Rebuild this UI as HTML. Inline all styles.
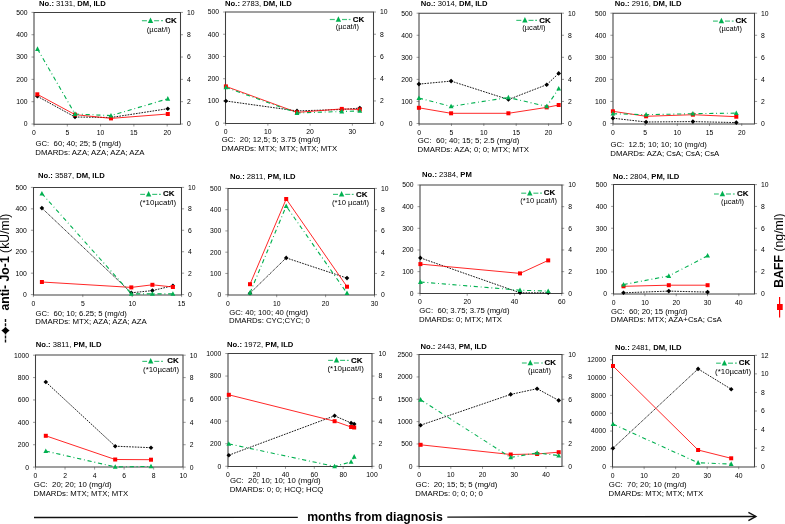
<!DOCTYPE html>
<html><head><meta charset="utf-8"><style>
html,body{margin:0;padding:0;background:#fff;}
body{width:785px;height:524px;overflow:hidden;}
svg{display:block;font-family:"Liberation Sans", sans-serif;will-change:transform;}
text{white-space:pre;}
</style></head><body>
<svg width="785" height="524" viewBox="0 0 785 524">
<g><text x="39.1" y="5.9" font-size="7.65"><tspan font-weight="bold">No.:</tspan> 3131, <tspan font-weight="bold">DM, ILD</tspan></text>
<line x1="31.5" y1="124" x2="34" y2="124" stroke="#808080" stroke-width="0.8"/>
<text x="27.5" y="126.4" font-size="6.8" text-anchor="end" fill="#000">0</text>
<line x1="31.5" y1="101.68" x2="34" y2="101.68" stroke="#808080" stroke-width="0.8"/>
<text x="27.5" y="104.08" font-size="6.8" text-anchor="end" fill="#000">100</text>
<line x1="31.5" y1="79.36" x2="34" y2="79.36" stroke="#808080" stroke-width="0.8"/>
<text x="27.5" y="81.76" font-size="6.8" text-anchor="end" fill="#000">200</text>
<line x1="31.5" y1="57.04" x2="34" y2="57.04" stroke="#808080" stroke-width="0.8"/>
<text x="27.5" y="59.44" font-size="6.8" text-anchor="end" fill="#000">300</text>
<line x1="31.5" y1="34.72" x2="34" y2="34.72" stroke="#808080" stroke-width="0.8"/>
<text x="27.5" y="37.12" font-size="6.8" text-anchor="end" fill="#000">400</text>
<line x1="31.5" y1="12.4" x2="34" y2="12.4" stroke="#808080" stroke-width="0.8"/>
<text x="27.5" y="14.8" font-size="6.8" text-anchor="end" fill="#000">500</text>
<line x1="180.5" y1="124" x2="183" y2="124" stroke="#808080" stroke-width="0.8"/>
<text x="187" y="126.4" font-size="6.8" fill="#000">0</text>
<line x1="180.5" y1="101.68" x2="183" y2="101.68" stroke="#808080" stroke-width="0.8"/>
<text x="187" y="104.08" font-size="6.8" fill="#000">2</text>
<line x1="180.5" y1="79.36" x2="183" y2="79.36" stroke="#808080" stroke-width="0.8"/>
<text x="187" y="81.76" font-size="6.8" fill="#000">4</text>
<line x1="180.5" y1="57.04" x2="183" y2="57.04" stroke="#808080" stroke-width="0.8"/>
<text x="187" y="59.44" font-size="6.8" fill="#000">6</text>
<line x1="180.5" y1="34.72" x2="183" y2="34.72" stroke="#808080" stroke-width="0.8"/>
<text x="187" y="37.12" font-size="6.8" fill="#000">8</text>
<line x1="180.5" y1="12.4" x2="183" y2="12.4" stroke="#808080" stroke-width="0.8"/>
<text x="187" y="14.8" font-size="6.8" fill="#000">10</text>
<line x1="34" y1="124" x2="34" y2="126.5" stroke="#808080" stroke-width="0.8"/>
<text x="34" y="135" font-size="6.8" text-anchor="middle" fill="#000">0</text>
<line x1="67.3" y1="124" x2="67.3" y2="126.5" stroke="#808080" stroke-width="0.8"/>
<text x="67.3" y="135" font-size="6.8" text-anchor="middle" fill="#000">5</text>
<line x1="100.59" y1="124" x2="100.59" y2="126.5" stroke="#808080" stroke-width="0.8"/>
<text x="100.59" y="135" font-size="6.8" text-anchor="middle" fill="#000">10</text>
<line x1="133.89" y1="124" x2="133.89" y2="126.5" stroke="#808080" stroke-width="0.8"/>
<text x="133.89" y="135" font-size="6.8" text-anchor="middle" fill="#000">15</text>
<line x1="167.18" y1="124" x2="167.18" y2="126.5" stroke="#808080" stroke-width="0.8"/>
<text x="167.18" y="135" font-size="6.8" text-anchor="middle" fill="#000">20</text>
<path d="M34,12.5H180.5M180.5,12.5V124.3M180.5,124.3H34M34,124.3V12.5" fill="none" stroke="#404040" stroke-width="1.05" stroke-linecap="square"/>
<text x="35.5" y="146.2" font-size="7.7" fill="#000" textLength="85.7" lengthAdjust="spacingAndGlyphs">GC:  60; 40; 25; 5 (mg/d)</text>
<text x="35.3" y="154.9" font-size="7.7" fill="#000" textLength="109.3" lengthAdjust="spacingAndGlyphs">DMARDs: AZA; AZA; AZA; AZA</text>
<line x1="37.3" y1="96.3" x2="75" y2="117" stroke="#000" stroke-width="0.9" stroke-dasharray="1.7 1.1"/>
<line x1="75" y1="117" x2="111" y2="117.5" stroke="#000" stroke-width="0.9" stroke-dasharray="1.7 1.1"/>
<line x1="111" y1="117.5" x2="167.8" y2="108.7" stroke="#000" stroke-width="0.9" stroke-dasharray="1.7 1.1"/>
<polygon points="37.3,94 39.6,96.3 37.3,98.6 35,96.3" fill="#000"/>
<polygon points="75,114.7 77.3,117 75,119.3 72.7,117" fill="#000"/>
<polygon points="111,115.2 113.3,117.5 111,119.8 108.7,117.5" fill="#000"/>
<polygon points="167.8,106.4 170.1,108.7 167.8,111 165.5,108.7" fill="#000"/>
<polyline points="37.3,94.3 75,114.6 111,118.4 167.8,114" fill="none" stroke="#ff0000" stroke-width="0.85"/>
<rect x="35.3" y="92.3" width="4" height="4" fill="#ff0000"/>
<rect x="73" y="112.6" width="4" height="4" fill="#ff0000"/>
<rect x="109" y="116.4" width="4" height="4" fill="#ff0000"/>
<rect x="165.8" y="112" width="4" height="4" fill="#ff0000"/>
<polyline points="37.5,49 75,114 111,115.6 167.8,98.8" fill="none" stroke="#00b050" stroke-width="1.1" stroke-dasharray="4.2 2.8 0.9 2.8"/>
<polygon points="37.5,46.3 39.9,50.9 35.1,50.9" fill="#00b050"/>
<polygon points="75,111.3 77.4,115.9 72.6,115.9" fill="#00b050"/>
<polygon points="111,112.9 113.4,117.5 108.6,117.5" fill="#00b050"/>
<polygon points="167.8,96.1 170.2,100.7 165.4,100.7" fill="#00b050"/>
<line x1="141.9" y1="20.7" x2="146.9" y2="20.7" stroke="#00b050" stroke-width="1.2" stroke-opacity="0.75"/>
<line x1="154.1" y1="20.7" x2="159.1" y2="20.7" stroke="#00b050" stroke-width="1.2" stroke-opacity="0.75"/>
<line x1="161.1" y1="20.7" x2="162.9" y2="20.7" stroke="#00b050" stroke-width="1.2" stroke-opacity="0.75"/>
<polygon points="150.5,17.4 153.2,22.9 147.8,22.9" fill="#00b050"/>
<text x="176.6" y="23" font-size="7.9" font-weight="bold" text-anchor="end" fill="#000" stroke="#000" stroke-width="0.15">CK</text>
<text x="170.3" y="31.6" font-size="7.7" text-anchor="end" fill="#000" textLength="23.5" lengthAdjust="spacingAndGlyphs">(µcat/l)</text></g>
<g><text x="225.1" y="5.5" font-size="7.65"><tspan font-weight="bold">No.:</tspan> 2783, <tspan font-weight="bold">DM, ILD</tspan></text>
<line x1="223.1" y1="123.2" x2="225.6" y2="123.2" stroke="#808080" stroke-width="0.8"/>
<text x="219.1" y="125.6" font-size="6.8" text-anchor="end" fill="#000">0</text>
<line x1="223.1" y1="100.96" x2="225.6" y2="100.96" stroke="#808080" stroke-width="0.8"/>
<text x="219.1" y="103.36" font-size="6.8" text-anchor="end" fill="#000">100</text>
<line x1="223.1" y1="78.72" x2="225.6" y2="78.72" stroke="#808080" stroke-width="0.8"/>
<text x="219.1" y="81.12" font-size="6.8" text-anchor="end" fill="#000">200</text>
<line x1="223.1" y1="56.48" x2="225.6" y2="56.48" stroke="#808080" stroke-width="0.8"/>
<text x="219.1" y="58.88" font-size="6.8" text-anchor="end" fill="#000">300</text>
<line x1="223.1" y1="34.24" x2="225.6" y2="34.24" stroke="#808080" stroke-width="0.8"/>
<text x="219.1" y="36.64" font-size="6.8" text-anchor="end" fill="#000">400</text>
<line x1="223.1" y1="12" x2="225.6" y2="12" stroke="#808080" stroke-width="0.8"/>
<text x="219.1" y="14.4" font-size="6.8" text-anchor="end" fill="#000">500</text>
<line x1="373.5" y1="123.2" x2="376" y2="123.2" stroke="#808080" stroke-width="0.8"/>
<text x="380" y="125.6" font-size="6.8" fill="#000">0</text>
<line x1="373.5" y1="100.96" x2="376" y2="100.96" stroke="#808080" stroke-width="0.8"/>
<text x="380" y="103.36" font-size="6.8" fill="#000">2</text>
<line x1="373.5" y1="78.72" x2="376" y2="78.72" stroke="#808080" stroke-width="0.8"/>
<text x="380" y="81.12" font-size="6.8" fill="#000">4</text>
<line x1="373.5" y1="56.48" x2="376" y2="56.48" stroke="#808080" stroke-width="0.8"/>
<text x="380" y="58.88" font-size="6.8" fill="#000">6</text>
<line x1="373.5" y1="34.24" x2="376" y2="34.24" stroke="#808080" stroke-width="0.8"/>
<text x="380" y="36.64" font-size="6.8" fill="#000">8</text>
<line x1="373.5" y1="12" x2="376" y2="12" stroke="#808080" stroke-width="0.8"/>
<text x="380" y="14.4" font-size="6.8" fill="#000">10</text>
<line x1="225.6" y1="123.2" x2="225.6" y2="125.7" stroke="#808080" stroke-width="0.8"/>
<text x="225.6" y="134.2" font-size="6.8" text-anchor="middle" fill="#000">0</text>
<line x1="267.86" y1="123.2" x2="267.86" y2="125.7" stroke="#808080" stroke-width="0.8"/>
<text x="267.86" y="134.2" font-size="6.8" text-anchor="middle" fill="#000">10</text>
<line x1="310.11" y1="123.2" x2="310.11" y2="125.7" stroke="#808080" stroke-width="0.8"/>
<text x="310.11" y="134.2" font-size="6.8" text-anchor="middle" fill="#000">20</text>
<line x1="352.37" y1="123.2" x2="352.37" y2="125.7" stroke="#808080" stroke-width="0.8"/>
<text x="352.37" y="134.2" font-size="6.8" text-anchor="middle" fill="#000">30</text>
<path d="M225.5,12H373.5M373.5,12V123.5M373.5,123.5H225.5M225.5,123.5V12" fill="none" stroke="#404040" stroke-width="1.05" stroke-linecap="square"/>
<text x="221.7" y="142.4" font-size="7.7" fill="#000" textLength="98.9" lengthAdjust="spacingAndGlyphs">GC:  20; 12,5; 5; 3.75 (mg/d)</text>
<text x="221.5" y="151.1" font-size="7.7" fill="#000" textLength="115.8" lengthAdjust="spacingAndGlyphs">DMARDs: MTX; MTX; MTX; MTX</text>
<line x1="225.9" y1="101" x2="297" y2="110.9" stroke="#000" stroke-width="0.9" stroke-dasharray="1.7 1.1"/>
<line x1="297" y1="110.9" x2="341.8" y2="109.5" stroke="#000" stroke-width="0.9" stroke-dasharray="1.7 1.1"/>
<line x1="341.8" y1="109.5" x2="359.8" y2="108.1" stroke="#000" stroke-width="0.9" stroke-dasharray="1.7 1.1"/>
<polygon points="225.9,98.7 228.2,101 225.9,103.3 223.6,101" fill="#000"/>
<polygon points="297,108.6 299.3,110.9 297,113.2 294.7,110.9" fill="#000"/>
<polygon points="341.8,107.2 344.1,109.5 341.8,111.8 339.5,109.5" fill="#000"/>
<polygon points="359.8,105.8 362.1,108.1 359.8,110.4 357.5,108.1" fill="#000"/>
<polyline points="225.9,86.4 297,112.4 341.8,108.9 359.8,109.5" fill="none" stroke="#ff0000" stroke-width="0.85"/>
<rect x="223.9" y="84.4" width="4" height="4" fill="#ff0000"/>
<rect x="295" y="110.4" width="4" height="4" fill="#ff0000"/>
<rect x="339.8" y="106.9" width="4" height="4" fill="#ff0000"/>
<rect x="357.8" y="107.5" width="4" height="4" fill="#ff0000"/>
<polyline points="225.9,87.4 297,113 341.8,111.5 359.8,110.9" fill="none" stroke="#00b050" stroke-width="1.1" stroke-dasharray="4.2 2.8 0.9 2.8"/>
<polygon points="225.9,84.7 228.3,89.3 223.5,89.3" fill="#00b050"/>
<polygon points="297,110.3 299.4,114.9 294.6,114.9" fill="#00b050"/>
<polygon points="341.8,108.8 344.2,113.4 339.4,113.4" fill="#00b050"/>
<polygon points="359.8,108.2 362.2,112.8 357.4,112.8" fill="#00b050"/>
<line x1="329.8" y1="19.5" x2="334.8" y2="19.5" stroke="#00b050" stroke-width="1.2" stroke-opacity="0.75"/>
<line x1="342" y1="19.5" x2="347" y2="19.5" stroke="#00b050" stroke-width="1.2" stroke-opacity="0.75"/>
<line x1="348.7" y1="19.5" x2="350.5" y2="19.5" stroke="#00b050" stroke-width="1.2" stroke-opacity="0.75"/>
<polygon points="338.4,16.2 341.1,21.7 335.7,21.7" fill="#00b050"/>
<text x="364.1" y="21.6" font-size="7.9" font-weight="bold" text-anchor="end" fill="#000" stroke="#000" stroke-width="0.15">CK</text>
<text x="358.9" y="29.3" font-size="7.7" text-anchor="end" fill="#000" textLength="23.1" lengthAdjust="spacingAndGlyphs">(µcat/l)</text></g>
<g><text x="420.8" y="6.15" font-size="7.65"><tspan font-weight="bold">No.:</tspan> 3014, <tspan font-weight="bold">DM, ILD</tspan></text>
<line x1="416.6" y1="123.5" x2="419.1" y2="123.5" stroke="#808080" stroke-width="0.8"/>
<text x="412.6" y="125.9" font-size="6.8" text-anchor="end" fill="#000">0</text>
<line x1="416.6" y1="101.44" x2="419.1" y2="101.44" stroke="#808080" stroke-width="0.8"/>
<text x="412.6" y="103.84" font-size="6.8" text-anchor="end" fill="#000">100</text>
<line x1="416.6" y1="79.38" x2="419.1" y2="79.38" stroke="#808080" stroke-width="0.8"/>
<text x="412.6" y="81.78" font-size="6.8" text-anchor="end" fill="#000">200</text>
<line x1="416.6" y1="57.32" x2="419.1" y2="57.32" stroke="#808080" stroke-width="0.8"/>
<text x="412.6" y="59.72" font-size="6.8" text-anchor="end" fill="#000">300</text>
<line x1="416.6" y1="35.26" x2="419.1" y2="35.26" stroke="#808080" stroke-width="0.8"/>
<text x="412.6" y="37.66" font-size="6.8" text-anchor="end" fill="#000">400</text>
<line x1="416.6" y1="13.2" x2="419.1" y2="13.2" stroke="#808080" stroke-width="0.8"/>
<text x="412.6" y="15.6" font-size="6.8" text-anchor="end" fill="#000">500</text>
<line x1="561.5" y1="123.5" x2="564" y2="123.5" stroke="#808080" stroke-width="0.8"/>
<text x="568" y="125.9" font-size="6.8" fill="#000">0</text>
<line x1="561.5" y1="101.44" x2="564" y2="101.44" stroke="#808080" stroke-width="0.8"/>
<text x="568" y="103.84" font-size="6.8" fill="#000">2</text>
<line x1="561.5" y1="79.38" x2="564" y2="79.38" stroke="#808080" stroke-width="0.8"/>
<text x="568" y="81.78" font-size="6.8" fill="#000">4</text>
<line x1="561.5" y1="57.32" x2="564" y2="57.32" stroke="#808080" stroke-width="0.8"/>
<text x="568" y="59.72" font-size="6.8" fill="#000">6</text>
<line x1="561.5" y1="35.26" x2="564" y2="35.26" stroke="#808080" stroke-width="0.8"/>
<text x="568" y="37.66" font-size="6.8" fill="#000">8</text>
<line x1="561.5" y1="13.2" x2="564" y2="13.2" stroke="#808080" stroke-width="0.8"/>
<text x="568" y="15.6" font-size="6.8" fill="#000">10</text>
<line x1="419.1" y1="123.5" x2="419.1" y2="126" stroke="#808080" stroke-width="0.8"/>
<text x="419.1" y="134.5" font-size="6.8" text-anchor="middle" fill="#000">0</text>
<line x1="451.46" y1="123.5" x2="451.46" y2="126" stroke="#808080" stroke-width="0.8"/>
<text x="451.46" y="134.5" font-size="6.8" text-anchor="middle" fill="#000">5</text>
<line x1="483.83" y1="123.5" x2="483.83" y2="126" stroke="#808080" stroke-width="0.8"/>
<text x="483.83" y="134.5" font-size="6.8" text-anchor="middle" fill="#000">10</text>
<line x1="516.19" y1="123.5" x2="516.19" y2="126" stroke="#808080" stroke-width="0.8"/>
<text x="516.19" y="134.5" font-size="6.8" text-anchor="middle" fill="#000">15</text>
<line x1="548.55" y1="123.5" x2="548.55" y2="126" stroke="#808080" stroke-width="0.8"/>
<text x="548.55" y="134.5" font-size="6.8" text-anchor="middle" fill="#000">20</text>
<path d="M419,13.3H561.5M561.5,13.3V124M561.5,124H419M419,124V13.3" fill="none" stroke="#404040" stroke-width="1.05" stroke-linecap="square"/>
<text x="417.7" y="143.2" font-size="7.7" fill="#000" textLength="101.7" lengthAdjust="spacingAndGlyphs">GC:  60; 40; 15; 5; 2.5 (mg/d)</text>
<text x="417.5" y="151.9" font-size="7.7" fill="#000" textLength="111.5" lengthAdjust="spacingAndGlyphs">DMARDs: AZA; 0; 0; MTX; MTX</text>
<line x1="418.9" y1="84.1" x2="451.1" y2="81.1" stroke="#000" stroke-width="0.9" stroke-dasharray="1.7 1.1"/>
<line x1="451.1" y1="81.1" x2="508.4" y2="99.5" stroke="#000" stroke-width="0.9" stroke-dasharray="1.7 1.1"/>
<line x1="508.4" y1="99.5" x2="546.7" y2="84.7" stroke="#000" stroke-width="0.9" stroke-dasharray="1.7 1.1"/>
<line x1="546.7" y1="84.7" x2="558.7" y2="73.4" stroke="#000" stroke-width="0.9" stroke-dasharray="1.7 1.1"/>
<polygon points="418.9,81.8 421.2,84.1 418.9,86.4 416.6,84.1" fill="#000"/>
<polygon points="451.1,78.8 453.4,81.1 451.1,83.4 448.8,81.1" fill="#000"/>
<polygon points="508.4,97.2 510.7,99.5 508.4,101.8 506.1,99.5" fill="#000"/>
<polygon points="546.7,82.4 549,84.7 546.7,87 544.4,84.7" fill="#000"/>
<polygon points="558.7,71.1 561,73.4 558.7,75.7 556.4,73.4" fill="#000"/>
<polyline points="418.9,107.8 451.1,113.3 508.4,113.3 546.7,107.4 558.7,105" fill="none" stroke="#ff0000" stroke-width="0.85"/>
<rect x="416.9" y="105.8" width="4" height="4" fill="#ff0000"/>
<rect x="449.1" y="111.3" width="4" height="4" fill="#ff0000"/>
<rect x="506.4" y="111.3" width="4" height="4" fill="#ff0000"/>
<rect x="544.7" y="105.4" width="4" height="4" fill="#ff0000"/>
<rect x="556.7" y="103" width="4" height="4" fill="#ff0000"/>
<polyline points="418.9,98.1 451.1,106.4 508.4,97.5 546.7,106.4 558.7,88.6" fill="none" stroke="#00b050" stroke-width="1.1" stroke-dasharray="4.2 2.8 0.9 2.8"/>
<polygon points="418.9,95.4 421.3,100 416.5,100" fill="#00b050"/>
<polygon points="451.1,103.7 453.5,108.3 448.7,108.3" fill="#00b050"/>
<polygon points="508.4,94.8 510.8,99.4 506,99.4" fill="#00b050"/>
<polygon points="546.7,103.7 549.1,108.3 544.3,108.3" fill="#00b050"/>
<polygon points="558.7,85.9 561.1,90.5 556.3,90.5" fill="#00b050"/>
<line x1="516.3" y1="20.4" x2="521.3" y2="20.4" stroke="#00b050" stroke-width="1.2" stroke-opacity="0.75"/>
<line x1="528.5" y1="20.4" x2="533.5" y2="20.4" stroke="#00b050" stroke-width="1.2" stroke-opacity="0.75"/>
<line x1="535.2" y1="20.4" x2="537" y2="20.4" stroke="#00b050" stroke-width="1.2" stroke-opacity="0.75"/>
<polygon points="524.9,17.1 527.6,22.6 522.2,22.6" fill="#00b050"/>
<text x="550.6" y="22.6" font-size="7.9" font-weight="bold" text-anchor="end" fill="#000" stroke="#000" stroke-width="0.15">CK</text>
<text x="545.4" y="30.4" font-size="7.7" text-anchor="end" fill="#000" textLength="23.1" lengthAdjust="spacingAndGlyphs">(µcat/l)</text></g>
<g><text x="614.8" y="6.45" font-size="7.65"><tspan font-weight="bold">No.:</tspan> 2916, <tspan font-weight="bold">DM, ILD</tspan></text>
<line x1="610.4" y1="123.5" x2="612.9" y2="123.5" stroke="#808080" stroke-width="0.8"/>
<text x="606.4" y="125.9" font-size="6.8" text-anchor="end" fill="#000">0</text>
<line x1="610.4" y1="101.44" x2="612.9" y2="101.44" stroke="#808080" stroke-width="0.8"/>
<text x="606.4" y="103.84" font-size="6.8" text-anchor="end" fill="#000">100</text>
<line x1="610.4" y1="79.38" x2="612.9" y2="79.38" stroke="#808080" stroke-width="0.8"/>
<text x="606.4" y="81.78" font-size="6.8" text-anchor="end" fill="#000">200</text>
<line x1="610.4" y1="57.32" x2="612.9" y2="57.32" stroke="#808080" stroke-width="0.8"/>
<text x="606.4" y="59.72" font-size="6.8" text-anchor="end" fill="#000">300</text>
<line x1="610.4" y1="35.26" x2="612.9" y2="35.26" stroke="#808080" stroke-width="0.8"/>
<text x="606.4" y="37.66" font-size="6.8" text-anchor="end" fill="#000">400</text>
<line x1="610.4" y1="13.2" x2="612.9" y2="13.2" stroke="#808080" stroke-width="0.8"/>
<text x="606.4" y="15.6" font-size="6.8" text-anchor="end" fill="#000">500</text>
<line x1="754.6" y1="123.5" x2="757.1" y2="123.5" stroke="#808080" stroke-width="0.8"/>
<text x="761.1" y="125.9" font-size="6.8" fill="#000">0</text>
<line x1="754.6" y1="101.44" x2="757.1" y2="101.44" stroke="#808080" stroke-width="0.8"/>
<text x="761.1" y="103.84" font-size="6.8" fill="#000">2</text>
<line x1="754.6" y1="79.38" x2="757.1" y2="79.38" stroke="#808080" stroke-width="0.8"/>
<text x="761.1" y="81.78" font-size="6.8" fill="#000">4</text>
<line x1="754.6" y1="57.32" x2="757.1" y2="57.32" stroke="#808080" stroke-width="0.8"/>
<text x="761.1" y="59.72" font-size="6.8" fill="#000">6</text>
<line x1="754.6" y1="35.26" x2="757.1" y2="35.26" stroke="#808080" stroke-width="0.8"/>
<text x="761.1" y="37.66" font-size="6.8" fill="#000">8</text>
<line x1="754.6" y1="13.2" x2="757.1" y2="13.2" stroke="#808080" stroke-width="0.8"/>
<text x="761.1" y="15.6" font-size="6.8" fill="#000">10</text>
<line x1="612.9" y1="123.5" x2="612.9" y2="126" stroke="#808080" stroke-width="0.8"/>
<text x="612.9" y="134.5" font-size="6.8" text-anchor="middle" fill="#000">0</text>
<line x1="645.1" y1="123.5" x2="645.1" y2="126" stroke="#808080" stroke-width="0.8"/>
<text x="645.1" y="134.5" font-size="6.8" text-anchor="middle" fill="#000">5</text>
<line x1="677.31" y1="123.5" x2="677.31" y2="126" stroke="#808080" stroke-width="0.8"/>
<text x="677.31" y="134.5" font-size="6.8" text-anchor="middle" fill="#000">10</text>
<line x1="709.51" y1="123.5" x2="709.51" y2="126" stroke="#808080" stroke-width="0.8"/>
<text x="709.51" y="134.5" font-size="6.8" text-anchor="middle" fill="#000">15</text>
<line x1="741.72" y1="123.5" x2="741.72" y2="126" stroke="#808080" stroke-width="0.8"/>
<text x="741.72" y="134.5" font-size="6.8" text-anchor="middle" fill="#000">20</text>
<path d="M613,13.3H754.5M754.5,13.3V124M754.5,124H613M613,124V13.3" fill="none" stroke="#404040" stroke-width="1.05" stroke-linecap="square"/>
<text x="610.5" y="147.3" font-size="7.7" fill="#000" textLength="96.3" lengthAdjust="spacingAndGlyphs">GC:  12.5; 10; 10; 10 (mg/d)</text>
<text x="610.3" y="156" font-size="7.7" fill="#000" textLength="109" lengthAdjust="spacingAndGlyphs">DMARDs: AZA; CsA; CsA; CsA</text>
<line x1="612.9" y1="118.2" x2="646.1" y2="122" stroke="#000" stroke-width="0.9" stroke-dasharray="1.7 1.1"/>
<line x1="646.1" y1="122" x2="692.9" y2="121.6" stroke="#000" stroke-width="0.9" stroke-dasharray="1.7 1.1"/>
<line x1="692.9" y1="121.6" x2="736.3" y2="122.6" stroke="#000" stroke-width="0.9" stroke-dasharray="1.7 1.1"/>
<polygon points="612.9,115.9 615.2,118.2 612.9,120.5 610.6,118.2" fill="#000"/>
<polygon points="646.1,119.7 648.4,122 646.1,124.3 643.8,122" fill="#000"/>
<polygon points="692.9,119.3 695.2,121.6 692.9,123.9 690.6,121.6" fill="#000"/>
<polygon points="736.3,120.3 738.6,122.6 736.3,124.9 734,122.6" fill="#000"/>
<polyline points="612.9,111.3 646.1,116.3 692.9,114.7 736.3,116.7" fill="none" stroke="#ff0000" stroke-width="0.85"/>
<rect x="610.9" y="109.3" width="4" height="4" fill="#ff0000"/>
<rect x="644.1" y="114.3" width="4" height="4" fill="#ff0000"/>
<rect x="690.9" y="112.7" width="4" height="4" fill="#ff0000"/>
<rect x="734.3" y="114.7" width="4" height="4" fill="#ff0000"/>
<polyline points="612.9,113.7 646.1,114.7 692.9,113.7 736.3,113.1" fill="none" stroke="#00b050" stroke-width="1.1" stroke-dasharray="4.2 2.8 0.9 2.8"/>
<polygon points="612.9,111 615.3,115.6 610.5,115.6" fill="#00b050"/>
<polygon points="646.1,112 648.5,116.6 643.7,116.6" fill="#00b050"/>
<polygon points="692.9,111 695.3,115.6 690.5,115.6" fill="#00b050"/>
<polygon points="736.3,110.4 738.7,115 733.9,115" fill="#00b050"/>
<line x1="713" y1="21.1" x2="717.8" y2="21.1" stroke="#00b050" stroke-width="1.2" stroke-opacity="0.75"/>
<line x1="725" y1="21.1" x2="730" y2="21.1" stroke="#00b050" stroke-width="1.2" stroke-opacity="0.75"/>
<line x1="731.8" y1="21.1" x2="733.6" y2="21.1" stroke="#00b050" stroke-width="1.2" stroke-opacity="0.75"/>
<polygon points="721.4,17.8 724.1,23.3 718.7,23.3" fill="#00b050"/>
<text x="747" y="23" font-size="7.9" font-weight="bold" text-anchor="end" fill="#000" stroke="#000" stroke-width="0.15">CK</text>
<text x="742" y="31.3" font-size="7.7" text-anchor="end" fill="#000" textLength="23.1" lengthAdjust="spacingAndGlyphs">(µcat/l)</text></g>
<g><text x="38" y="178.3" font-size="7.65"><tspan font-weight="bold">No.:</tspan> 3587, <tspan font-weight="bold">DM, ILD</tspan></text>
<line x1="30.9" y1="294.6" x2="33.4" y2="294.6" stroke="#808080" stroke-width="0.8"/>
<text x="26.9" y="297" font-size="6.8" text-anchor="end" fill="#000">0</text>
<line x1="30.9" y1="273.16" x2="33.4" y2="273.16" stroke="#808080" stroke-width="0.8"/>
<text x="26.9" y="275.56" font-size="6.8" text-anchor="end" fill="#000">100</text>
<line x1="30.9" y1="251.72" x2="33.4" y2="251.72" stroke="#808080" stroke-width="0.8"/>
<text x="26.9" y="254.12" font-size="6.8" text-anchor="end" fill="#000">200</text>
<line x1="30.9" y1="230.28" x2="33.4" y2="230.28" stroke="#808080" stroke-width="0.8"/>
<text x="26.9" y="232.68" font-size="6.8" text-anchor="end" fill="#000">300</text>
<line x1="30.9" y1="208.84" x2="33.4" y2="208.84" stroke="#808080" stroke-width="0.8"/>
<text x="26.9" y="211.24" font-size="6.8" text-anchor="end" fill="#000">400</text>
<line x1="30.9" y1="187.4" x2="33.4" y2="187.4" stroke="#808080" stroke-width="0.8"/>
<text x="26.9" y="189.8" font-size="6.8" text-anchor="end" fill="#000">500</text>
<line x1="181.6" y1="294.6" x2="184.1" y2="294.6" stroke="#808080" stroke-width="0.8"/>
<text x="188.1" y="297" font-size="6.8" fill="#000">0</text>
<line x1="181.6" y1="273.16" x2="184.1" y2="273.16" stroke="#808080" stroke-width="0.8"/>
<text x="188.1" y="275.56" font-size="6.8" fill="#000">2</text>
<line x1="181.6" y1="251.72" x2="184.1" y2="251.72" stroke="#808080" stroke-width="0.8"/>
<text x="188.1" y="254.12" font-size="6.8" fill="#000">4</text>
<line x1="181.6" y1="230.28" x2="184.1" y2="230.28" stroke="#808080" stroke-width="0.8"/>
<text x="188.1" y="232.68" font-size="6.8" fill="#000">6</text>
<line x1="181.6" y1="208.84" x2="184.1" y2="208.84" stroke="#808080" stroke-width="0.8"/>
<text x="188.1" y="211.24" font-size="6.8" fill="#000">8</text>
<line x1="181.6" y1="187.4" x2="184.1" y2="187.4" stroke="#808080" stroke-width="0.8"/>
<text x="188.1" y="189.8" font-size="6.8" fill="#000">10</text>
<line x1="33.4" y1="294.6" x2="33.4" y2="297.1" stroke="#808080" stroke-width="0.8"/>
<text x="33.4" y="305.6" font-size="6.8" text-anchor="middle" fill="#000">0</text>
<line x1="82.8" y1="294.6" x2="82.8" y2="297.1" stroke="#808080" stroke-width="0.8"/>
<text x="82.8" y="305.6" font-size="6.8" text-anchor="middle" fill="#000">5</text>
<line x1="132.2" y1="294.6" x2="132.2" y2="297.1" stroke="#808080" stroke-width="0.8"/>
<text x="132.2" y="305.6" font-size="6.8" text-anchor="middle" fill="#000">10</text>
<line x1="181.6" y1="294.6" x2="181.6" y2="297.1" stroke="#808080" stroke-width="0.8"/>
<text x="181.6" y="305.6" font-size="6.8" text-anchor="middle" fill="#000">15</text>
<path d="M33.5,187.5H181.5M181.5,187.5V295M181.5,295H33.5M33.5,295V187.5" fill="none" stroke="#404040" stroke-width="1.05" stroke-linecap="square"/>
<text x="35.5" y="315.7" font-size="7.7" fill="#000" textLength="91.3" lengthAdjust="spacingAndGlyphs">GC:  60; 10; 6.25; 5 (mg/d)</text>
<text x="35.3" y="324.4" font-size="7.7" fill="#000" textLength="111.5" lengthAdjust="spacingAndGlyphs">DMARDs: MTX; AZA; AZA; AZA</text>
<line x1="41.9" y1="208.1" x2="131.3" y2="292.8" stroke="#000" stroke-width="0.85" stroke-dasharray="1.3 0.7"/>
<line x1="131.3" y1="292.8" x2="152.4" y2="290.6" stroke="#000" stroke-width="0.9" stroke-dasharray="1.7 1.1"/>
<line x1="152.4" y1="290.6" x2="172.9" y2="285.7" stroke="#000" stroke-width="0.9" stroke-dasharray="1.7 1.1"/>
<polygon points="41.9,205.8 44.2,208.1 41.9,210.4 39.6,208.1" fill="#000"/>
<polygon points="131.3,290.5 133.6,292.8 131.3,295.1 129,292.8" fill="#000"/>
<polygon points="152.4,288.3 154.7,290.6 152.4,292.9 150.1,290.6" fill="#000"/>
<polygon points="172.9,283.4 175.2,285.7 172.9,288 170.6,285.7" fill="#000"/>
<polyline points="41.9,282 131.3,287.4 152.4,284.8 172.9,287" fill="none" stroke="#ff0000" stroke-width="0.85"/>
<rect x="39.9" y="280" width="4" height="4" fill="#ff0000"/>
<rect x="129.3" y="285.4" width="4" height="4" fill="#ff0000"/>
<rect x="150.4" y="282.8" width="4" height="4" fill="#ff0000"/>
<rect x="170.9" y="285" width="4" height="4" fill="#ff0000"/>
<polyline points="41.9,193.6 131.3,293.9 152.4,293.9 172.9,293.9" fill="none" stroke="#00b050" stroke-width="1.1" stroke-dasharray="4.2 2.8 0.9 2.8"/>
<polygon points="41.9,190.9 44.3,195.5 39.5,195.5" fill="#00b050"/>
<polygon points="131.3,291.2 133.7,295.8 128.9,295.8" fill="#00b050"/>
<polygon points="152.4,291.2 154.8,295.8 150,295.8" fill="#00b050"/>
<polygon points="172.9,291.2 175.3,295.8 170.5,295.8" fill="#00b050"/>
<line x1="140.2" y1="194.4" x2="145" y2="194.4" stroke="#00b050" stroke-width="1.2" stroke-opacity="0.75"/>
<line x1="152.2" y1="194.4" x2="157.2" y2="194.4" stroke="#00b050" stroke-width="1.2" stroke-opacity="0.75"/>
<line x1="159" y1="194.4" x2="160.8" y2="194.4" stroke="#00b050" stroke-width="1.2" stroke-opacity="0.75"/>
<polygon points="148.6,191.1 151.3,196.6 145.9,196.6" fill="#00b050"/>
<text x="174.5" y="196.1" font-size="7.9" font-weight="bold" text-anchor="end" fill="#000" stroke="#000" stroke-width="0.15">CK</text>
<text x="176.25" y="204.6" font-size="7.7" text-anchor="end" fill="#000" textLength="36.45" lengthAdjust="spacingAndGlyphs">(*10µcat/l)</text></g>
<g><text x="229.9" y="178.5" font-size="7.65"><tspan font-weight="bold">No.:</tspan> 2811, <tspan font-weight="bold">PM, ILD</tspan></text>
<line x1="225.3" y1="294.7" x2="227.8" y2="294.7" stroke="#808080" stroke-width="0.8"/>
<text x="221.3" y="297.1" font-size="6.8" text-anchor="end" fill="#000">0</text>
<line x1="225.3" y1="273.44" x2="227.8" y2="273.44" stroke="#808080" stroke-width="0.8"/>
<text x="221.3" y="275.84" font-size="6.8" text-anchor="end" fill="#000">100</text>
<line x1="225.3" y1="252.18" x2="227.8" y2="252.18" stroke="#808080" stroke-width="0.8"/>
<text x="221.3" y="254.58" font-size="6.8" text-anchor="end" fill="#000">200</text>
<line x1="225.3" y1="230.92" x2="227.8" y2="230.92" stroke="#808080" stroke-width="0.8"/>
<text x="221.3" y="233.32" font-size="6.8" text-anchor="end" fill="#000">300</text>
<line x1="225.3" y1="209.66" x2="227.8" y2="209.66" stroke="#808080" stroke-width="0.8"/>
<text x="221.3" y="212.06" font-size="6.8" text-anchor="end" fill="#000">400</text>
<line x1="225.3" y1="188.4" x2="227.8" y2="188.4" stroke="#808080" stroke-width="0.8"/>
<text x="221.3" y="190.8" font-size="6.8" text-anchor="end" fill="#000">500</text>
<line x1="374.5" y1="294.7" x2="377" y2="294.7" stroke="#808080" stroke-width="0.8"/>
<text x="381" y="297.1" font-size="6.8" fill="#000">0</text>
<line x1="374.5" y1="273.44" x2="377" y2="273.44" stroke="#808080" stroke-width="0.8"/>
<text x="381" y="275.84" font-size="6.8" fill="#000">2</text>
<line x1="374.5" y1="252.18" x2="377" y2="252.18" stroke="#808080" stroke-width="0.8"/>
<text x="381" y="254.58" font-size="6.8" fill="#000">4</text>
<line x1="374.5" y1="230.92" x2="377" y2="230.92" stroke="#808080" stroke-width="0.8"/>
<text x="381" y="233.32" font-size="6.8" fill="#000">6</text>
<line x1="374.5" y1="209.66" x2="377" y2="209.66" stroke="#808080" stroke-width="0.8"/>
<text x="381" y="212.06" font-size="6.8" fill="#000">8</text>
<line x1="374.5" y1="188.4" x2="377" y2="188.4" stroke="#808080" stroke-width="0.8"/>
<text x="381" y="190.8" font-size="6.8" fill="#000">10</text>
<line x1="227.8" y1="294.7" x2="227.8" y2="297.2" stroke="#808080" stroke-width="0.8"/>
<text x="227.8" y="305.7" font-size="6.8" text-anchor="middle" fill="#000">0</text>
<line x1="276.7" y1="294.7" x2="276.7" y2="297.2" stroke="#808080" stroke-width="0.8"/>
<text x="276.7" y="305.7" font-size="6.8" text-anchor="middle" fill="#000">10</text>
<line x1="325.6" y1="294.7" x2="325.6" y2="297.2" stroke="#808080" stroke-width="0.8"/>
<text x="325.6" y="305.7" font-size="6.8" text-anchor="middle" fill="#000">20</text>
<line x1="374.5" y1="294.7" x2="374.5" y2="297.2" stroke="#808080" stroke-width="0.8"/>
<text x="374.5" y="305.7" font-size="6.8" text-anchor="middle" fill="#000">30</text>
<path d="M228,188.5H374.5M374.5,188.5V295M374.5,295H228M228,295V188.5" fill="none" stroke="#404040" stroke-width="1.05" stroke-linecap="square"/>
<text x="229.3" y="314.5" font-size="7.7" fill="#000" textLength="78.9" lengthAdjust="spacingAndGlyphs">GC: 40; 100; 40 (mg/d)</text>
<text x="229.1" y="323.2" font-size="7.7" fill="#000" textLength="80.7" lengthAdjust="spacingAndGlyphs">DMARDs: CYC;CYC; 0</text>
<line x1="250" y1="293.2" x2="286.2" y2="257.9" stroke="#000" stroke-width="0.85" stroke-dasharray="1.3 0.7"/>
<line x1="286.2" y1="257.9" x2="347" y2="278.1" stroke="#000" stroke-width="0.9" stroke-dasharray="1.7 1.1"/>
<polygon points="250,290.9 252.3,293.2 250,295.5 247.7,293.2" fill="#000"/>
<polygon points="286.2,255.6 288.5,257.9 286.2,260.2 283.9,257.9" fill="#000"/>
<polygon points="347,275.8 349.3,278.1 347,280.4 344.7,278.1" fill="#000"/>
<polyline points="250,284.2 286.2,199 347,286.7" fill="none" stroke="#ff0000" stroke-width="0.85"/>
<rect x="248" y="282.2" width="4" height="4" fill="#ff0000"/>
<rect x="284.2" y="197" width="4" height="4" fill="#ff0000"/>
<rect x="345" y="284.7" width="4" height="4" fill="#ff0000"/>
<polyline points="250,292.8 286.2,206.1 347,293.2" fill="none" stroke="#00b050" stroke-width="1.1" stroke-dasharray="4.2 2.8 0.9 2.8"/>
<polygon points="250,290.1 252.4,294.7 247.6,294.7" fill="#00b050"/>
<polygon points="286.2,203.4 288.6,208 283.8,208" fill="#00b050"/>
<polygon points="347,290.5 349.4,295.1 344.6,295.1" fill="#00b050"/>
<line x1="333" y1="194.4" x2="338" y2="194.4" stroke="#00b050" stroke-width="1.2" stroke-opacity="0.75"/>
<line x1="345.2" y1="194.4" x2="350.2" y2="194.4" stroke="#00b050" stroke-width="1.2" stroke-opacity="0.75"/>
<line x1="351.8" y1="194.4" x2="353.6" y2="194.4" stroke="#00b050" stroke-width="1.2" stroke-opacity="0.75"/>
<polygon points="341.6,191.1 344.3,196.6 338.9,196.6" fill="#00b050"/>
<text x="367.5" y="196.5" font-size="7.9" font-weight="bold" text-anchor="end" fill="#000" stroke="#000" stroke-width="0.15">CK</text>
<text x="369.1" y="204.6" font-size="7.7" text-anchor="end" fill="#000" textLength="37.2" lengthAdjust="spacingAndGlyphs">(*10 µcat/l)</text></g>
<g><text x="422.1" y="176.7" font-size="7.65"><tspan font-weight="bold">No.:</tspan> 2384, <tspan font-weight="bold">PM</tspan></text>
<line x1="417.5" y1="293.3" x2="420" y2="293.3" stroke="#808080" stroke-width="0.8"/>
<text x="413.5" y="295.7" font-size="6.8" text-anchor="end" fill="#000">0</text>
<line x1="417.5" y1="271.64" x2="420" y2="271.64" stroke="#808080" stroke-width="0.8"/>
<text x="413.5" y="274.04" font-size="6.8" text-anchor="end" fill="#000">100</text>
<line x1="417.5" y1="249.98" x2="420" y2="249.98" stroke="#808080" stroke-width="0.8"/>
<text x="413.5" y="252.38" font-size="6.8" text-anchor="end" fill="#000">200</text>
<line x1="417.5" y1="228.32" x2="420" y2="228.32" stroke="#808080" stroke-width="0.8"/>
<text x="413.5" y="230.72" font-size="6.8" text-anchor="end" fill="#000">300</text>
<line x1="417.5" y1="206.66" x2="420" y2="206.66" stroke="#808080" stroke-width="0.8"/>
<text x="413.5" y="209.06" font-size="6.8" text-anchor="end" fill="#000">400</text>
<line x1="417.5" y1="185" x2="420" y2="185" stroke="#808080" stroke-width="0.8"/>
<text x="413.5" y="187.4" font-size="6.8" text-anchor="end" fill="#000">500</text>
<line x1="561.7" y1="293.3" x2="564.2" y2="293.3" stroke="#808080" stroke-width="0.8"/>
<text x="568.2" y="295.7" font-size="6.8" fill="#000">0</text>
<line x1="561.7" y1="271.64" x2="564.2" y2="271.64" stroke="#808080" stroke-width="0.8"/>
<text x="568.2" y="274.04" font-size="6.8" fill="#000">2</text>
<line x1="561.7" y1="249.98" x2="564.2" y2="249.98" stroke="#808080" stroke-width="0.8"/>
<text x="568.2" y="252.38" font-size="6.8" fill="#000">4</text>
<line x1="561.7" y1="228.32" x2="564.2" y2="228.32" stroke="#808080" stroke-width="0.8"/>
<text x="568.2" y="230.72" font-size="6.8" fill="#000">6</text>
<line x1="561.7" y1="206.66" x2="564.2" y2="206.66" stroke="#808080" stroke-width="0.8"/>
<text x="568.2" y="209.06" font-size="6.8" fill="#000">8</text>
<line x1="561.7" y1="185" x2="564.2" y2="185" stroke="#808080" stroke-width="0.8"/>
<text x="568.2" y="187.4" font-size="6.8" fill="#000">10</text>
<line x1="420" y1="293.3" x2="420" y2="295.8" stroke="#808080" stroke-width="0.8"/>
<text x="420" y="304.3" font-size="6.8" text-anchor="middle" fill="#000">0</text>
<line x1="467.23" y1="293.3" x2="467.23" y2="295.8" stroke="#808080" stroke-width="0.8"/>
<text x="467.23" y="304.3" font-size="6.8" text-anchor="middle" fill="#000">20</text>
<line x1="514.47" y1="293.3" x2="514.47" y2="295.8" stroke="#808080" stroke-width="0.8"/>
<text x="514.47" y="304.3" font-size="6.8" text-anchor="middle" fill="#000">40</text>
<line x1="561.7" y1="293.3" x2="561.7" y2="295.8" stroke="#808080" stroke-width="0.8"/>
<text x="561.7" y="304.3" font-size="6.8" text-anchor="middle" fill="#000">60</text>
<path d="M420,185H562M562,185V293.5M562,293.5H420M420,293.5V185" fill="none" stroke="#404040" stroke-width="1.05" stroke-linecap="square"/>
<text x="419.3" y="312.8" font-size="7.7" fill="#000" textLength="90.2" lengthAdjust="spacingAndGlyphs">GC:  60; 3.75; 3.75 (mg/d)</text>
<text x="419.1" y="321.5" font-size="7.7" fill="#000" textLength="82.9" lengthAdjust="spacingAndGlyphs">DMARDs: 0; MTX; MTX</text>
<line x1="420.4" y1="257.9" x2="520" y2="292.8" stroke="#000" stroke-width="0.9" stroke-dasharray="1.7 1.1"/>
<line x1="520" y1="292.8" x2="548.2" y2="292.8" stroke="#000" stroke-width="0.9" stroke-dasharray="1.7 1.1"/>
<polygon points="420.4,255.6 422.7,257.9 420.4,260.2 418.1,257.9" fill="#000"/>
<polygon points="520,290.5 522.3,292.8 520,295.1 517.7,292.8" fill="#000"/>
<polygon points="548.2,290.5 550.5,292.8 548.2,295.1 545.9,292.8" fill="#000"/>
<polyline points="420.4,264.1 520,273.4 548.2,260.4" fill="none" stroke="#ff0000" stroke-width="0.85"/>
<rect x="418.4" y="262.1" width="4" height="4" fill="#ff0000"/>
<rect x="518" y="271.4" width="4" height="4" fill="#ff0000"/>
<rect x="546.2" y="258.4" width="4" height="4" fill="#ff0000"/>
<polyline points="420.4,282 520,290.2 548.2,291.1" fill="none" stroke="#00b050" stroke-width="1.1" stroke-dasharray="4.2 2.8 0.9 2.8"/>
<polygon points="420.4,279.3 422.8,283.9 418,283.9" fill="#00b050"/>
<polygon points="520,287.5 522.4,292.1 517.6,292.1" fill="#00b050"/>
<polygon points="548.2,288.4 550.6,293 545.8,293" fill="#00b050"/>
<line x1="521.2" y1="193.2" x2="526.2" y2="193.2" stroke="#00b050" stroke-width="1.2" stroke-opacity="0.75"/>
<line x1="533.4" y1="193.2" x2="538.4" y2="193.2" stroke="#00b050" stroke-width="1.2" stroke-opacity="0.75"/>
<line x1="540.1" y1="193.2" x2="541.9" y2="193.2" stroke="#00b050" stroke-width="1.2" stroke-opacity="0.75"/>
<polygon points="529.8,189.9 532.5,195.4 527.1,195.4" fill="#00b050"/>
<text x="555.2" y="195.1" font-size="7.9" font-weight="bold" text-anchor="end" fill="#000" stroke="#000" stroke-width="0.15">CK</text>
<text x="557" y="203.2" font-size="7.7" text-anchor="end" fill="#000" textLength="36.8" lengthAdjust="spacingAndGlyphs">(*10 µcat/l)</text></g>
<g><text x="613.1" y="178.6" font-size="7.65"><tspan font-weight="bold">No.:</tspan> 2804, <tspan font-weight="bold">PM, ILD</tspan></text>
<line x1="611.1" y1="293.7" x2="613.6" y2="293.7" stroke="#808080" stroke-width="0.8"/>
<text x="607.1" y="296.1" font-size="6.8" text-anchor="end" fill="#000">0</text>
<line x1="611.1" y1="271.88" x2="613.6" y2="271.88" stroke="#808080" stroke-width="0.8"/>
<text x="607.1" y="274.28" font-size="6.8" text-anchor="end" fill="#000">100</text>
<line x1="611.1" y1="250.06" x2="613.6" y2="250.06" stroke="#808080" stroke-width="0.8"/>
<text x="607.1" y="252.46" font-size="6.8" text-anchor="end" fill="#000">200</text>
<line x1="611.1" y1="228.24" x2="613.6" y2="228.24" stroke="#808080" stroke-width="0.8"/>
<text x="607.1" y="230.64" font-size="6.8" text-anchor="end" fill="#000">300</text>
<line x1="611.1" y1="206.42" x2="613.6" y2="206.42" stroke="#808080" stroke-width="0.8"/>
<text x="607.1" y="208.82" font-size="6.8" text-anchor="end" fill="#000">400</text>
<line x1="611.1" y1="184.6" x2="613.6" y2="184.6" stroke="#808080" stroke-width="0.8"/>
<text x="607.1" y="187" font-size="6.8" text-anchor="end" fill="#000">500</text>
<line x1="754.5" y1="293.7" x2="757" y2="293.7" stroke="#808080" stroke-width="0.8"/>
<text x="761" y="296.1" font-size="6.8" fill="#000">0</text>
<line x1="754.5" y1="271.88" x2="757" y2="271.88" stroke="#808080" stroke-width="0.8"/>
<text x="761" y="274.28" font-size="6.8" fill="#000">2</text>
<line x1="754.5" y1="250.06" x2="757" y2="250.06" stroke="#808080" stroke-width="0.8"/>
<text x="761" y="252.46" font-size="6.8" fill="#000">4</text>
<line x1="754.5" y1="228.24" x2="757" y2="228.24" stroke="#808080" stroke-width="0.8"/>
<text x="761" y="230.64" font-size="6.8" fill="#000">6</text>
<line x1="754.5" y1="206.42" x2="757" y2="206.42" stroke="#808080" stroke-width="0.8"/>
<text x="761" y="208.82" font-size="6.8" fill="#000">8</text>
<line x1="754.5" y1="184.6" x2="757" y2="184.6" stroke="#808080" stroke-width="0.8"/>
<text x="761" y="187" font-size="6.8" fill="#000">10</text>
<line x1="613.6" y1="293.7" x2="613.6" y2="296.2" stroke="#808080" stroke-width="0.8"/>
<text x="613.6" y="304.7" font-size="6.8" text-anchor="middle" fill="#000">0</text>
<line x1="644.91" y1="293.7" x2="644.91" y2="296.2" stroke="#808080" stroke-width="0.8"/>
<text x="644.91" y="304.7" font-size="6.8" text-anchor="middle" fill="#000">10</text>
<line x1="676.22" y1="293.7" x2="676.22" y2="296.2" stroke="#808080" stroke-width="0.8"/>
<text x="676.22" y="304.7" font-size="6.8" text-anchor="middle" fill="#000">20</text>
<line x1="707.53" y1="293.7" x2="707.53" y2="296.2" stroke="#808080" stroke-width="0.8"/>
<text x="707.53" y="304.7" font-size="6.8" text-anchor="middle" fill="#000">30</text>
<line x1="738.84" y1="293.7" x2="738.84" y2="296.2" stroke="#808080" stroke-width="0.8"/>
<text x="738.84" y="304.7" font-size="6.8" text-anchor="middle" fill="#000">40</text>
<path d="M613.5,184.5H754.5M754.5,184.5V294M754.5,294H613.5M613.5,294V184.5" fill="none" stroke="#404040" stroke-width="1.05" stroke-linecap="square"/>
<text x="611" y="313.5" font-size="7.7" fill="#000" textLength="76.5" lengthAdjust="spacingAndGlyphs">GC:  60; 20; 15 (mg/d)</text>
<text x="610.8" y="322.2" font-size="7.7" fill="#000" textLength="111" lengthAdjust="spacingAndGlyphs">DMARDs: MTX; AZA+CsA; CsA</text>
<line x1="623.5" y1="292.8" x2="668.8" y2="291.1" stroke="#000" stroke-width="0.9" stroke-dasharray="1.7 1.1"/>
<line x1="668.8" y1="291.1" x2="707.6" y2="292.1" stroke="#000" stroke-width="0.9" stroke-dasharray="1.7 1.1"/>
<polygon points="623.5,290.5 625.8,292.8 623.5,295.1 621.2,292.8" fill="#000"/>
<polygon points="668.8,288.8 671.1,291.1 668.8,293.4 666.5,291.1" fill="#000"/>
<polygon points="707.6,289.8 709.9,292.1 707.6,294.4 705.3,292.1" fill="#000"/>
<polyline points="623.5,286.3 668.8,285.2 707.6,285.2" fill="none" stroke="#ff0000" stroke-width="0.85"/>
<rect x="621.5" y="284.3" width="4" height="4" fill="#ff0000"/>
<rect x="666.8" y="283.2" width="4" height="4" fill="#ff0000"/>
<rect x="705.6" y="283.2" width="4" height="4" fill="#ff0000"/>
<polyline points="623.5,284.6 668.8,276 707.6,255.7" fill="none" stroke="#00b050" stroke-width="1.1" stroke-dasharray="4.2 2.8 0.9 2.8"/>
<polygon points="623.5,281.9 625.9,286.5 621.1,286.5" fill="#00b050"/>
<polygon points="668.8,273.3 671.2,277.9 666.4,277.9" fill="#00b050"/>
<polygon points="707.6,253 710,257.6 705.2,257.6" fill="#00b050"/>
<line x1="714" y1="194" x2="718.8" y2="194" stroke="#00b050" stroke-width="1.2" stroke-opacity="0.75"/>
<line x1="726" y1="194" x2="731" y2="194" stroke="#00b050" stroke-width="1.2" stroke-opacity="0.75"/>
<line x1="732.9" y1="194" x2="734.7" y2="194" stroke="#00b050" stroke-width="1.2" stroke-opacity="0.75"/>
<polygon points="722.4,190.7 725.1,196.2 719.7,196.2" fill="#00b050"/>
<text x="748.4" y="195.8" font-size="7.9" font-weight="bold" text-anchor="end" fill="#000" stroke="#000" stroke-width="0.15">CK</text>
<text x="744.1" y="203.9" font-size="7.7" text-anchor="end" fill="#000" textLength="23.1" lengthAdjust="spacingAndGlyphs">(µcat/l)</text></g>
<g><text x="35.8" y="346.9" font-size="7.65"><tspan font-weight="bold">No.:</tspan> 3811, <tspan font-weight="bold">PM, ILD</tspan></text>
<line x1="33" y1="467.1" x2="35.5" y2="467.1" stroke="#808080" stroke-width="0.8"/>
<text x="29" y="469.5" font-size="6.8" text-anchor="end" fill="#000">0</text>
<line x1="33" y1="444.72" x2="35.5" y2="444.72" stroke="#808080" stroke-width="0.8"/>
<text x="29" y="447.12" font-size="6.8" text-anchor="end" fill="#000">200</text>
<line x1="33" y1="422.34" x2="35.5" y2="422.34" stroke="#808080" stroke-width="0.8"/>
<text x="29" y="424.74" font-size="6.8" text-anchor="end" fill="#000">400</text>
<line x1="33" y1="399.96" x2="35.5" y2="399.96" stroke="#808080" stroke-width="0.8"/>
<text x="29" y="402.36" font-size="6.8" text-anchor="end" fill="#000">600</text>
<line x1="33" y1="377.58" x2="35.5" y2="377.58" stroke="#808080" stroke-width="0.8"/>
<text x="29" y="379.98" font-size="6.8" text-anchor="end" fill="#000">800</text>
<line x1="33" y1="355.2" x2="35.5" y2="355.2" stroke="#808080" stroke-width="0.8"/>
<text x="29" y="357.6" font-size="6.8" text-anchor="end" fill="#000">1000</text>
<line x1="183.2" y1="467.1" x2="185.7" y2="467.1" stroke="#808080" stroke-width="0.8"/>
<text x="189.7" y="469.5" font-size="6.8" fill="#000">0</text>
<line x1="183.2" y1="444.72" x2="185.7" y2="444.72" stroke="#808080" stroke-width="0.8"/>
<text x="189.7" y="447.12" font-size="6.8" fill="#000">2</text>
<line x1="183.2" y1="422.34" x2="185.7" y2="422.34" stroke="#808080" stroke-width="0.8"/>
<text x="189.7" y="424.74" font-size="6.8" fill="#000">4</text>
<line x1="183.2" y1="399.96" x2="185.7" y2="399.96" stroke="#808080" stroke-width="0.8"/>
<text x="189.7" y="402.36" font-size="6.8" fill="#000">6</text>
<line x1="183.2" y1="377.58" x2="185.7" y2="377.58" stroke="#808080" stroke-width="0.8"/>
<text x="189.7" y="379.98" font-size="6.8" fill="#000">8</text>
<line x1="183.2" y1="355.2" x2="185.7" y2="355.2" stroke="#808080" stroke-width="0.8"/>
<text x="189.7" y="357.6" font-size="6.8" fill="#000">10</text>
<line x1="35.5" y1="467.1" x2="35.5" y2="469.6" stroke="#808080" stroke-width="0.8"/>
<text x="35.5" y="478.1" font-size="6.8" text-anchor="middle" fill="#000">0</text>
<line x1="65.04" y1="467.1" x2="65.04" y2="469.6" stroke="#808080" stroke-width="0.8"/>
<text x="65.04" y="478.1" font-size="6.8" text-anchor="middle" fill="#000">2</text>
<line x1="94.58" y1="467.1" x2="94.58" y2="469.6" stroke="#808080" stroke-width="0.8"/>
<text x="94.58" y="478.1" font-size="6.8" text-anchor="middle" fill="#000">4</text>
<line x1="124.12" y1="467.1" x2="124.12" y2="469.6" stroke="#808080" stroke-width="0.8"/>
<text x="124.12" y="478.1" font-size="6.8" text-anchor="middle" fill="#000">6</text>
<line x1="153.66" y1="467.1" x2="153.66" y2="469.6" stroke="#808080" stroke-width="0.8"/>
<text x="153.66" y="478.1" font-size="6.8" text-anchor="middle" fill="#000">8</text>
<line x1="183.2" y1="467.1" x2="183.2" y2="469.6" stroke="#808080" stroke-width="0.8"/>
<text x="183.2" y="478.1" font-size="6.8" text-anchor="middle" fill="#000">10</text>
<path d="M35.5,355H183M183,355V467M183,467H35.5M35.5,467V355" fill="none" stroke="#404040" stroke-width="1.05" stroke-linecap="square"/>
<text x="33.8" y="487.3" font-size="7.7" fill="#000" textLength="77.8" lengthAdjust="spacingAndGlyphs">GC:  20; 20; 10 (mg/d)</text>
<text x="33.6" y="496" font-size="7.7" fill="#000" textLength="94.5" lengthAdjust="spacingAndGlyphs">DMARDs: MTX; MTX; MTX</text>
<line x1="45.8" y1="382" x2="115.2" y2="446.2" stroke="#000" stroke-width="0.9" stroke-dasharray="1.7 1.1"/>
<line x1="115.2" y1="446.2" x2="151" y2="447.7" stroke="#000" stroke-width="0.9" stroke-dasharray="1.7 1.1"/>
<polygon points="45.8,379.7 48.1,382 45.8,384.3 43.5,382" fill="#000"/>
<polygon points="115.2,443.9 117.5,446.2 115.2,448.5 112.9,446.2" fill="#000"/>
<polygon points="151,445.4 153.3,447.7 151,450 148.7,447.7" fill="#000"/>
<polyline points="45.8,435.8 115.2,459.5 151,459.7" fill="none" stroke="#ff0000" stroke-width="0.85"/>
<rect x="43.8" y="433.8" width="4" height="4" fill="#ff0000"/>
<rect x="113.2" y="457.5" width="4" height="4" fill="#ff0000"/>
<rect x="149" y="457.7" width="4" height="4" fill="#ff0000"/>
<polyline points="45.8,451.1 115.2,466.9 151,466.4" fill="none" stroke="#00b050" stroke-width="1.1" stroke-dasharray="4.2 2.8 0.9 2.8"/>
<polygon points="45.8,448.4 48.2,453 43.4,453" fill="#00b050"/>
<polygon points="115.2,464.2 117.6,468.8 112.8,468.8" fill="#00b050"/>
<polygon points="151,463.7 153.4,468.3 148.6,468.3" fill="#00b050"/>
<line x1="142.3" y1="361.4" x2="147.1" y2="361.4" stroke="#00b050" stroke-width="1.2" stroke-opacity="0.75"/>
<line x1="154.3" y1="361.4" x2="159.3" y2="361.4" stroke="#00b050" stroke-width="1.2" stroke-opacity="0.75"/>
<line x1="161.1" y1="361.4" x2="162.9" y2="361.4" stroke="#00b050" stroke-width="1.2" stroke-opacity="0.75"/>
<polygon points="150.7,358.1 153.4,363.6 148,363.6" fill="#00b050"/>
<text x="178.7" y="363.3" font-size="7.9" font-weight="bold" text-anchor="end" fill="#000" stroke="#000" stroke-width="0.15">CK</text>
<text x="179.1" y="371.8" font-size="7.7" text-anchor="end" fill="#000" textLength="36.1" lengthAdjust="spacingAndGlyphs">(*10µcat/l)</text></g>
<g><text x="227.1" y="346.7" font-size="7.65"><tspan font-weight="bold">No.:</tspan> 1972, <tspan font-weight="bold">PM, ILD</tspan></text>
<line x1="225.3" y1="466.3" x2="227.8" y2="466.3" stroke="#808080" stroke-width="0.8"/>
<text x="221.3" y="468.7" font-size="6.8" text-anchor="end" fill="#000">0</text>
<line x1="225.3" y1="443.74" x2="227.8" y2="443.74" stroke="#808080" stroke-width="0.8"/>
<text x="221.3" y="446.14" font-size="6.8" text-anchor="end" fill="#000">200</text>
<line x1="225.3" y1="421.18" x2="227.8" y2="421.18" stroke="#808080" stroke-width="0.8"/>
<text x="221.3" y="423.58" font-size="6.8" text-anchor="end" fill="#000">400</text>
<line x1="225.3" y1="398.62" x2="227.8" y2="398.62" stroke="#808080" stroke-width="0.8"/>
<text x="221.3" y="401.02" font-size="6.8" text-anchor="end" fill="#000">600</text>
<line x1="225.3" y1="376.06" x2="227.8" y2="376.06" stroke="#808080" stroke-width="0.8"/>
<text x="221.3" y="378.46" font-size="6.8" text-anchor="end" fill="#000">800</text>
<line x1="225.3" y1="353.5" x2="227.8" y2="353.5" stroke="#808080" stroke-width="0.8"/>
<text x="221.3" y="355.9" font-size="6.8" text-anchor="end" fill="#000">1000</text>
<line x1="372" y1="466.3" x2="374.5" y2="466.3" stroke="#808080" stroke-width="0.8"/>
<text x="378.5" y="468.7" font-size="6.8" fill="#000">0</text>
<line x1="372" y1="443.74" x2="374.5" y2="443.74" stroke="#808080" stroke-width="0.8"/>
<text x="378.5" y="446.14" font-size="6.8" fill="#000">2</text>
<line x1="372" y1="421.18" x2="374.5" y2="421.18" stroke="#808080" stroke-width="0.8"/>
<text x="378.5" y="423.58" font-size="6.8" fill="#000">4</text>
<line x1="372" y1="398.62" x2="374.5" y2="398.62" stroke="#808080" stroke-width="0.8"/>
<text x="378.5" y="401.02" font-size="6.8" fill="#000">6</text>
<line x1="372" y1="376.06" x2="374.5" y2="376.06" stroke="#808080" stroke-width="0.8"/>
<text x="378.5" y="378.46" font-size="6.8" fill="#000">8</text>
<line x1="372" y1="353.5" x2="374.5" y2="353.5" stroke="#808080" stroke-width="0.8"/>
<text x="378.5" y="355.9" font-size="6.8" fill="#000">10</text>
<line x1="227.8" y1="466.3" x2="227.8" y2="468.8" stroke="#808080" stroke-width="0.8"/>
<text x="227.8" y="477.3" font-size="6.8" text-anchor="middle" fill="#000">0</text>
<line x1="256.64" y1="466.3" x2="256.64" y2="468.8" stroke="#808080" stroke-width="0.8"/>
<text x="256.64" y="477.3" font-size="6.8" text-anchor="middle" fill="#000">20</text>
<line x1="285.48" y1="466.3" x2="285.48" y2="468.8" stroke="#808080" stroke-width="0.8"/>
<text x="285.48" y="477.3" font-size="6.8" text-anchor="middle" fill="#000">40</text>
<line x1="314.32" y1="466.3" x2="314.32" y2="468.8" stroke="#808080" stroke-width="0.8"/>
<text x="314.32" y="477.3" font-size="6.8" text-anchor="middle" fill="#000">60</text>
<line x1="343.16" y1="466.3" x2="343.16" y2="468.8" stroke="#808080" stroke-width="0.8"/>
<text x="343.16" y="477.3" font-size="6.8" text-anchor="middle" fill="#000">80</text>
<line x1="372" y1="466.3" x2="372" y2="468.8" stroke="#808080" stroke-width="0.8"/>
<text x="372" y="477.3" font-size="6.8" text-anchor="middle" fill="#000">100</text>
<path d="M228,353.5H372M372,353.5V466.5M372,466.5H228M228,466.5V353.5" fill="none" stroke="#404040" stroke-width="1.05" stroke-linecap="square"/>
<text x="229.9" y="483.2" font-size="7.7" fill="#000" textLength="90.7" lengthAdjust="spacingAndGlyphs">GC:  20; 10; 10; 10 (mg/d)</text>
<text x="229.7" y="491.9" font-size="7.7" fill="#000" textLength="93.8" lengthAdjust="spacingAndGlyphs">DMARDs: 0; 0; HCQ; HCQ</text>
<line x1="228.8" y1="455.2" x2="334.6" y2="415.8" stroke="#000" stroke-width="0.9" stroke-dasharray="1.7 1.1"/>
<line x1="334.6" y1="415.8" x2="351.1" y2="423" stroke="#000" stroke-width="0.9" stroke-dasharray="1.7 1.1"/>
<line x1="351.1" y1="423" x2="354.2" y2="424.1" stroke="#000" stroke-width="0.9" stroke-dasharray="1.7 1.1"/>
<polygon points="228.8,452.9 231.1,455.2 228.8,457.5 226.5,455.2" fill="#000"/>
<polygon points="334.6,413.5 336.9,415.8 334.6,418.1 332.3,415.8" fill="#000"/>
<polygon points="351.1,420.7 353.4,423 351.1,425.3 348.8,423" fill="#000"/>
<polygon points="354.2,421.8 356.5,424.1 354.2,426.4 351.9,424.1" fill="#000"/>
<polyline points="228.8,394.8 334.6,421.2 351.1,427 354.2,427.5" fill="none" stroke="#ff0000" stroke-width="0.85"/>
<rect x="226.8" y="392.8" width="4" height="4" fill="#ff0000"/>
<rect x="332.6" y="419.2" width="4" height="4" fill="#ff0000"/>
<rect x="349.1" y="425" width="4" height="4" fill="#ff0000"/>
<rect x="352.2" y="425.5" width="4" height="4" fill="#ff0000"/>
<polyline points="228.8,443.9 334.6,466.4 351.1,461.9 354.2,456.8" fill="none" stroke="#00b050" stroke-width="1.1" stroke-dasharray="4.2 2.8 0.9 2.8"/>
<polygon points="228.8,441.2 231.2,445.8 226.4,445.8" fill="#00b050"/>
<polygon points="334.6,463.7 337,468.3 332.2,468.3" fill="#00b050"/>
<polygon points="351.1,459.2 353.5,463.8 348.7,463.8" fill="#00b050"/>
<polygon points="354.2,454.1 356.6,458.7 351.8,458.7" fill="#00b050"/>
<line x1="328.1" y1="360.4" x2="332.9" y2="360.4" stroke="#00b050" stroke-width="1.2" stroke-opacity="0.75"/>
<line x1="340.1" y1="360.4" x2="345.1" y2="360.4" stroke="#00b050" stroke-width="1.2" stroke-opacity="0.75"/>
<line x1="346.9" y1="360.4" x2="348.7" y2="360.4" stroke="#00b050" stroke-width="1.2" stroke-opacity="0.75"/>
<polygon points="336.5,357.1 339.2,362.6 333.8,362.6" fill="#00b050"/>
<text x="362.4" y="362.6" font-size="7.9" font-weight="bold" text-anchor="end" fill="#000" stroke="#000" stroke-width="0.15">CK</text>
<text x="363.8" y="371.1" font-size="7.7" text-anchor="end" fill="#000" textLength="36.4" lengthAdjust="spacingAndGlyphs">(*10µcat/l)</text></g>
<g><text x="420.5" y="348.5" font-size="7.65"><tspan font-weight="bold">No.:</tspan> 2443, <tspan font-weight="bold">PM, ILD</tspan></text>
<line x1="416.6" y1="466.3" x2="419.1" y2="466.3" stroke="#808080" stroke-width="0.8"/>
<text x="412.6" y="468.7" font-size="6.8" text-anchor="end" fill="#000">0</text>
<line x1="416.6" y1="443.96" x2="419.1" y2="443.96" stroke="#808080" stroke-width="0.8"/>
<text x="412.6" y="446.36" font-size="6.8" text-anchor="end" fill="#000">500</text>
<line x1="416.6" y1="421.62" x2="419.1" y2="421.62" stroke="#808080" stroke-width="0.8"/>
<text x="412.6" y="424.02" font-size="6.8" text-anchor="end" fill="#000">1000</text>
<line x1="416.6" y1="399.28" x2="419.1" y2="399.28" stroke="#808080" stroke-width="0.8"/>
<text x="412.6" y="401.68" font-size="6.8" text-anchor="end" fill="#000">1500</text>
<line x1="416.6" y1="376.94" x2="419.1" y2="376.94" stroke="#808080" stroke-width="0.8"/>
<text x="412.6" y="379.34" font-size="6.8" text-anchor="end" fill="#000">2000</text>
<line x1="416.6" y1="354.6" x2="419.1" y2="354.6" stroke="#808080" stroke-width="0.8"/>
<text x="412.6" y="357" font-size="6.8" text-anchor="end" fill="#000">2500</text>
<line x1="561.8" y1="466.3" x2="564.3" y2="466.3" stroke="#808080" stroke-width="0.8"/>
<text x="568.3" y="468.7" font-size="6.8" fill="#000">0</text>
<line x1="561.8" y1="443.96" x2="564.3" y2="443.96" stroke="#808080" stroke-width="0.8"/>
<text x="568.3" y="446.36" font-size="6.8" fill="#000">2</text>
<line x1="561.8" y1="421.62" x2="564.3" y2="421.62" stroke="#808080" stroke-width="0.8"/>
<text x="568.3" y="424.02" font-size="6.8" fill="#000">4</text>
<line x1="561.8" y1="399.28" x2="564.3" y2="399.28" stroke="#808080" stroke-width="0.8"/>
<text x="568.3" y="401.68" font-size="6.8" fill="#000">6</text>
<line x1="561.8" y1="376.94" x2="564.3" y2="376.94" stroke="#808080" stroke-width="0.8"/>
<text x="568.3" y="379.34" font-size="6.8" fill="#000">8</text>
<line x1="561.8" y1="354.6" x2="564.3" y2="354.6" stroke="#808080" stroke-width="0.8"/>
<text x="568.3" y="357" font-size="6.8" fill="#000">10</text>
<line x1="419.1" y1="466.3" x2="419.1" y2="468.8" stroke="#808080" stroke-width="0.8"/>
<text x="419.1" y="477.3" font-size="6.8" text-anchor="middle" fill="#000">0</text>
<line x1="450.81" y1="466.3" x2="450.81" y2="468.8" stroke="#808080" stroke-width="0.8"/>
<text x="450.81" y="477.3" font-size="6.8" text-anchor="middle" fill="#000">10</text>
<line x1="482.52" y1="466.3" x2="482.52" y2="468.8" stroke="#808080" stroke-width="0.8"/>
<text x="482.52" y="477.3" font-size="6.8" text-anchor="middle" fill="#000">20</text>
<line x1="514.23" y1="466.3" x2="514.23" y2="468.8" stroke="#808080" stroke-width="0.8"/>
<text x="514.23" y="477.3" font-size="6.8" text-anchor="middle" fill="#000">30</text>
<line x1="545.94" y1="466.3" x2="545.94" y2="468.8" stroke="#808080" stroke-width="0.8"/>
<text x="545.94" y="477.3" font-size="6.8" text-anchor="middle" fill="#000">40</text>
<path d="M419,354.5H562M562,354.5V466.5M562,466.5H419M419,466.5V354.5" fill="none" stroke="#404040" stroke-width="1.05" stroke-linecap="square"/>
<text x="415.5" y="486.8" font-size="7.7" fill="#000" textLength="81.9" lengthAdjust="spacingAndGlyphs">GC:  20; 15; 5; 5 (mg/d)</text>
<text x="415.3" y="495.5" font-size="7.7" fill="#000" textLength="67.6" lengthAdjust="spacingAndGlyphs">DMARDs: 0; 0; 0; 0</text>
<line x1="420.6" y1="425.2" x2="510.7" y2="394.4" stroke="#000" stroke-width="0.9" stroke-dasharray="1.7 1.1"/>
<line x1="510.7" y1="394.4" x2="537.1" y2="388.7" stroke="#000" stroke-width="0.9" stroke-dasharray="1.7 1.1"/>
<line x1="537.1" y1="388.7" x2="558.7" y2="400.4" stroke="#000" stroke-width="0.9" stroke-dasharray="1.7 1.1"/>
<polygon points="420.6,422.9 422.9,425.2 420.6,427.5 418.3,425.2" fill="#000"/>
<polygon points="510.7,392.1 513,394.4 510.7,396.7 508.4,394.4" fill="#000"/>
<polygon points="537.1,386.4 539.4,388.7 537.1,391 534.8,388.7" fill="#000"/>
<polygon points="558.7,398.1 561,400.4 558.7,402.7 556.4,400.4" fill="#000"/>
<polyline points="420.6,444.8 510.7,454.5 537.1,454 558.7,452.2" fill="none" stroke="#ff0000" stroke-width="0.85"/>
<rect x="418.6" y="442.8" width="4" height="4" fill="#ff0000"/>
<rect x="508.7" y="452.5" width="4" height="4" fill="#ff0000"/>
<rect x="535.1" y="452" width="4" height="4" fill="#ff0000"/>
<rect x="556.7" y="450.2" width="4" height="4" fill="#ff0000"/>
<polyline points="420.6,399.8 510.7,457.4 537.1,452.9 558.7,455.6" fill="none" stroke="#00b050" stroke-width="1.1" stroke-dasharray="4.2 2.8 0.9 2.8"/>
<polygon points="420.6,397.1 423,401.7 418.2,401.7" fill="#00b050"/>
<polygon points="510.7,454.7 513.1,459.3 508.3,459.3" fill="#00b050"/>
<polygon points="537.1,450.2 539.5,454.8 534.7,454.8" fill="#00b050"/>
<polygon points="558.7,452.9 561.1,457.5 556.3,457.5" fill="#00b050"/>
<line x1="521.9" y1="363" x2="526.7" y2="363" stroke="#00b050" stroke-width="1.2" stroke-opacity="0.75"/>
<line x1="533.9" y1="363" x2="538.9" y2="363" stroke="#00b050" stroke-width="1.2" stroke-opacity="0.75"/>
<line x1="541.1" y1="363" x2="542.9" y2="363" stroke="#00b050" stroke-width="1.2" stroke-opacity="0.75"/>
<polygon points="530.3,359.7 533,365.2 527.6,365.2" fill="#00b050"/>
<text x="555.9" y="365.1" font-size="7.9" font-weight="bold" text-anchor="end" fill="#000" stroke="#000" stroke-width="0.15">CK</text>
<text x="551" y="373.2" font-size="7.7" text-anchor="end" fill="#000" textLength="23.1" lengthAdjust="spacingAndGlyphs">(µcat/l)</text></g>
<g><text x="614.9" y="349.75" font-size="7.65"><tspan font-weight="bold">No.:</tspan> 2481, <tspan font-weight="bold">DM, ILD</tspan></text>
<line x1="610.1" y1="466.7" x2="612.6" y2="466.7" stroke="#808080" stroke-width="0.8"/>
<text x="606.1" y="469.1" font-size="6.8" text-anchor="end" fill="#000">0</text>
<line x1="610.1" y1="448.88" x2="612.6" y2="448.88" stroke="#808080" stroke-width="0.8"/>
<text x="606.1" y="451.28" font-size="6.8" text-anchor="end" fill="#000">2000</text>
<line x1="610.1" y1="431.05" x2="612.6" y2="431.05" stroke="#808080" stroke-width="0.8"/>
<text x="606.1" y="433.45" font-size="6.8" text-anchor="end" fill="#000">4000</text>
<line x1="610.1" y1="413.23" x2="612.6" y2="413.23" stroke="#808080" stroke-width="0.8"/>
<text x="606.1" y="415.63" font-size="6.8" text-anchor="end" fill="#000">6000</text>
<line x1="610.1" y1="395.4" x2="612.6" y2="395.4" stroke="#808080" stroke-width="0.8"/>
<text x="606.1" y="397.8" font-size="6.8" text-anchor="end" fill="#000">8000</text>
<line x1="610.1" y1="377.58" x2="612.6" y2="377.58" stroke="#808080" stroke-width="0.8"/>
<text x="606.1" y="379.98" font-size="6.8" text-anchor="end" fill="#000">10000</text>
<line x1="610.1" y1="359.76" x2="612.6" y2="359.76" stroke="#808080" stroke-width="0.8"/>
<text x="606.1" y="362.16" font-size="6.8" text-anchor="end" fill="#000">12000</text>
<line x1="754.5" y1="466.7" x2="757" y2="466.7" stroke="#808080" stroke-width="0.8"/>
<text x="761" y="469.1" font-size="6.8" fill="#000">0</text>
<line x1="754.5" y1="448.13" x2="757" y2="448.13" stroke="#808080" stroke-width="0.8"/>
<text x="761" y="450.53" font-size="6.8" fill="#000">2</text>
<line x1="754.5" y1="429.57" x2="757" y2="429.57" stroke="#808080" stroke-width="0.8"/>
<text x="761" y="431.97" font-size="6.8" fill="#000">4</text>
<line x1="754.5" y1="411" x2="757" y2="411" stroke="#808080" stroke-width="0.8"/>
<text x="761" y="413.4" font-size="6.8" fill="#000">6</text>
<line x1="754.5" y1="392.43" x2="757" y2="392.43" stroke="#808080" stroke-width="0.8"/>
<text x="761" y="394.83" font-size="6.8" fill="#000">8</text>
<line x1="754.5" y1="373.87" x2="757" y2="373.87" stroke="#808080" stroke-width="0.8"/>
<text x="761" y="376.27" font-size="6.8" fill="#000">10</text>
<line x1="754.5" y1="355.3" x2="757" y2="355.3" stroke="#808080" stroke-width="0.8"/>
<text x="761" y="357.7" font-size="6.8" fill="#000">12</text>
<line x1="612.6" y1="466.7" x2="612.6" y2="469.2" stroke="#808080" stroke-width="0.8"/>
<text x="612.6" y="477.7" font-size="6.8" text-anchor="middle" fill="#000">0</text>
<line x1="644.13" y1="466.7" x2="644.13" y2="469.2" stroke="#808080" stroke-width="0.8"/>
<text x="644.13" y="477.7" font-size="6.8" text-anchor="middle" fill="#000">10</text>
<line x1="675.67" y1="466.7" x2="675.67" y2="469.2" stroke="#808080" stroke-width="0.8"/>
<text x="675.67" y="477.7" font-size="6.8" text-anchor="middle" fill="#000">20</text>
<line x1="707.2" y1="466.7" x2="707.2" y2="469.2" stroke="#808080" stroke-width="0.8"/>
<text x="707.2" y="477.7" font-size="6.8" text-anchor="middle" fill="#000">30</text>
<line x1="738.73" y1="466.7" x2="738.73" y2="469.2" stroke="#808080" stroke-width="0.8"/>
<text x="738.73" y="477.7" font-size="6.8" text-anchor="middle" fill="#000">40</text>
<path d="M612.5,355.5H754.5M754.5,355.5V467M754.5,467H612.5M612.5,467V355.5" fill="none" stroke="#404040" stroke-width="1.05" stroke-linecap="square"/>
<text x="608.8" y="486.8" font-size="7.7" fill="#000" textLength="77.8" lengthAdjust="spacingAndGlyphs">GC:  70; 20; 10 (mg/d)</text>
<text x="608.6" y="495.5" font-size="7.7" fill="#000" textLength="94.5" lengthAdjust="spacingAndGlyphs">DMARDs: MTX; MTX; MTX</text>
<line x1="613" y1="448.2" x2="698.1" y2="368.9" stroke="#000" stroke-width="0.85" stroke-dasharray="1.3 0.7"/>
<line x1="698.1" y1="368.9" x2="731.2" y2="389.2" stroke="#000" stroke-width="0.9" stroke-dasharray="1.7 1.1"/>
<polygon points="613,445.9 615.3,448.2 613,450.5 610.7,448.2" fill="#000"/>
<polygon points="698.1,366.6 700.4,368.9 698.1,371.2 695.8,368.9" fill="#000"/>
<polygon points="731.2,386.9 733.5,389.2 731.2,391.5 728.9,389.2" fill="#000"/>
<polyline points="613,366 698.1,450 731.2,458.3" fill="none" stroke="#ff0000" stroke-width="0.85"/>
<rect x="611" y="364" width="4" height="4" fill="#ff0000"/>
<rect x="696.1" y="448" width="4" height="4" fill="#ff0000"/>
<rect x="729.2" y="456.3" width="4" height="4" fill="#ff0000"/>
<polyline points="613,424.1 698.1,462.8 731.2,464" fill="none" stroke="#00b050" stroke-width="1.1" stroke-dasharray="4.2 2.8 0.9 2.8"/>
<polygon points="613,421.4 615.4,426 610.6,426" fill="#00b050"/>
<polygon points="698.1,460.1 700.5,464.7 695.7,464.7" fill="#00b050"/>
<polygon points="731.2,461.3 733.6,465.9 728.8,465.9" fill="#00b050"/>
<line x1="716.1" y1="363.2" x2="720.8" y2="363.2" stroke="#00b050" stroke-width="1.2" stroke-opacity="0.75"/>
<line x1="728" y1="363.2" x2="733" y2="363.2" stroke="#00b050" stroke-width="1.2" stroke-opacity="0.75"/>
<line x1="735" y1="363.2" x2="736.8" y2="363.2" stroke="#00b050" stroke-width="1.2" stroke-opacity="0.75"/>
<polygon points="724.4,359.9 727.1,365.4 721.7,365.4" fill="#00b050"/>
<text x="750.1" y="365.1" font-size="7.9" font-weight="bold" text-anchor="end" fill="#000" stroke="#000" stroke-width="0.15">CK</text>
<text x="751.2" y="373.9" font-size="7.7" text-anchor="end" fill="#000" textLength="36.1" lengthAdjust="spacingAndGlyphs">(*10µcat/l)</text></g>
<line x1="34" y1="517.45" x2="297.8" y2="517.35" stroke="#111" stroke-width="1.4"/>
<line x1="447.3" y1="517.1" x2="755.5" y2="516.5" stroke="#111" stroke-width="1.4"/>
<polyline points="748.4,512.3 755.9,516.4 748.4,520.6" fill="none" stroke="#111" stroke-width="1.4" stroke-linejoin="miter"/>
<text x="307.2" y="521.3" font-size="12.28" font-weight="bold" fill="#000">months from diagnosis</text>
<text transform="translate(9.3,310.6) rotate(-90) scale(0.94,1)" font-size="13" fill="#000"><tspan font-weight="bold">anti- Jo-1 </tspan>(kU/ml)</text>
<line x1="5.5" y1="319.1" x2="5.5" y2="342.6" stroke="#111" stroke-width="1.4" stroke-dasharray="3 1.1"/>
<polygon points="5.5,327.3 9.6,330.6 5.5,333.9 1.4,330.6" fill="#000"/>
<text transform="translate(783.3,287.7) rotate(-90) scale(0.93,1)" font-size="13.2" fill="#000"><tspan font-weight="bold">BAFF </tspan>(ng/ml)</text>
<line x1="779.6" y1="296.9" x2="779.6" y2="317.4" stroke="#ff0000" stroke-width="1.2"/>
<rect x="777" y="304" width="5.7" height="6" fill="#ff0000"/>
</svg>
</body></html>
